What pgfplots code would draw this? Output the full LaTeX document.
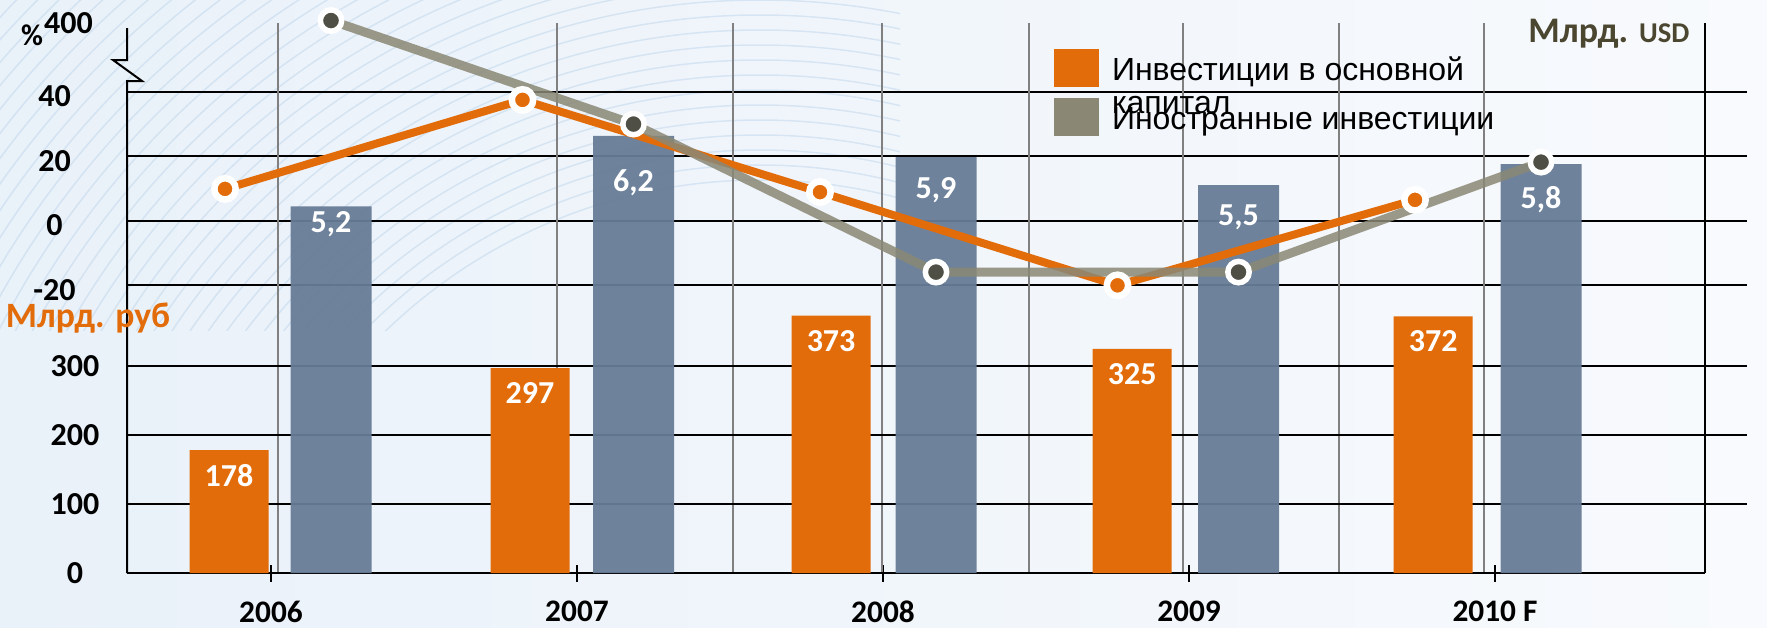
\documentclass[border=0pt]{standalone}
\usepackage{fontspec}
\setmainfont{Carlito}
\newfontfamily\arialfont{Liberation Sans}
\usepackage{pgfplots}
\pgfplotsset{compat=1.18}
\usepackage{pgfplotstable}

\definecolor{orangeC}{HTML}{E36C0A}
\definecolor{blueBar}{HTML}{687C96}
\definecolor{grayLine}{HTML}{8A8875}
\definecolor{grayMark}{HTML}{4F4F45}
\definecolor{oliveT}{HTML}{4A4630}
\definecolor{gridGray}{HTML}{808080}
\definecolor{bgL}{HTML}{E9F1F9}
\definecolor{bgR}{HTML}{F8FAFD}
\definecolor{arcC}{HTML}{B9D2EA}

% rubles (fixed capital investment), bn RUB
\pgfplotstableread{
x rub
0 178
1 297
2 373
3 325
4 372
}\rubdata
% foreign investment, bn USD (off = label offset below bar top, px)
\pgfplotstableread{
x usd off
0 5.2 4
1 6.2 33
2 5.9 20
3 5.5 19
4 5.8 22
}\usddata
% growth of fixed capital investment, %
\pgfplotstableread{
x pct
0 9.8
1 37.4
2 8.8
3 -20.1
4 6.4
}\capdata
% growth of foreign investment, % (first point = 400 %, drawn above the axis break at 62)
\pgfplotstableread{
x pct
0 62
1 29.9
2 -16.0
3 -16.0
4 18.1
}\fdidata

\tikzset{lab/.style={font=\bfseries\fontsize{9.6}{11}\selectfont}}
\pgfplotsset{
  base/.style={scale only axis, width=486pt, height=165pt, at={(38.1pt,16.2pt)},
    anchor=south west, clip=false, axis line style={draw=none},
    tick style={draw=none}, xtick=\empty, ytick=\empty},
  pct/.style={ymin=-109.30, ymax=61.24},
}

\begin{document}
\begin{tikzpicture}
\useasboundingbox (0,0) rectangle (530.1pt,188.1pt);
\shade[left color=bgL, right color=bgR] (0,0) rectangle (530.1pt,188.1pt);
\begin{scope}[x=0.3pt, y=-0.3pt, shift={(0pt,188.1pt)}]
  \begin{scope}
    \clip (0,0) rectangle (900,330);
    \foreach \r in {540,555,...,1050} \draw[arcC, line width=0.45pt, opacity=0.45] (760,720) circle[radius=\r];
  \end{scope}
\end{scope}

% ---- frame axis: percent grid, x ticks, legend
\begin{axis}[base, pct, xmin=-0.47059, xmax=4.82353,
  xtick={0,1,2,3,4}, xticklabels={2006,2007,2008,2009,2010 F},
  xtick pos=left, xtick style={draw=black, line width=0.75pt},
  major tick length=5.1pt, tick align=center,
  xticklabel style={font=\bfseries\fontsize{9.4}{11}\selectfont, anchor=center, yshift=-9pt, inner sep=0pt},
  ytick={-20,0,20,40}, yticklabels={-20,0,20,40}, ytick pos=left, ytick style={draw=none},
  extra y ticks={61.2}, extra y tick labels={400},
  extra y tick style={grid=none, yticklabel style={xshift=4.2pt, yshift=1.4pt}},
  yticklabel style={lab, anchor=center, xshift=-19.2pt, yshift=-1.4pt, inner sep=0pt},
  ymajorgrids, major grid style={black, line width=0.6pt},
  extra x ticks={0.02288,0.93464,1.50980,1.99673,2.47712,2.98039,3.49020,3.96405},
  extra x tick labels={},
  extra x tick style={grid=major, major grid style={gridGray, line width=0.45pt}, major tick length=0pt},
  legend style={at={(0.57222,0.95273)}, anchor=north west, draw=none, fill=none,
    inner sep=0pt, outer sep=0pt, row sep=2.1pt, column sep=3.9pt,
    nodes={inner sep=0pt, text height=8.7pt, text depth=3pt, font=\arialfont\fontsize{9.6}{11}\selectfont}},
  legend cell align=left,
  legend image code/.code={\fill[#1] (0pt,-4.8pt) rectangle (13.5pt,6.6pt);},
]
\addlegendimage{fill=orangeC, draw=none}
\addlegendentry{\rlap{\raisebox{-10pt}{капитал}}Инвестиции в основной}
\addlegendimage{fill=grayLine, draw=none}
\addlegendentry{Иностранные инвестиции}
\draw[black, line width=0.6pt] (rel axis cs:0.97407,1) -- (rel axis cs:0.97407,0);
\draw[black, line width=0.75pt] (rel axis cs:0,0) -- (rel axis cs:0.97407,0);
\draw[black, line width=0.6pt] (rel axis cs:0,0) -- (rel axis cs:0,0.89455) -- (rel axis cs:0.009259,0.89455)
  -- (rel axis cs:-0.008642,0.93273) -- (rel axis cs:0,0.93273) -- (rel axis cs:0,0.99091);
\end{axis}

% ---- rubles axis: orange bars
\begin{axis}[base, xmin=-0.33887, xmax=5.04319, ymin=0, ymax=797.10,
  ytick={100,200,300}, yticklabels={100,200,300}, ytick pos=left,
  extra y ticks={0}, extra y tick labels={0}, extra y tick style={grid=none},
  ymajorgrids, major grid style={black, line width=0.6pt},
  yticklabel style={lab, anchor=center, xshift=-15.6pt, inner sep=0pt},
]
\addplot[ybar, bar width=23.7pt, bar shift=0pt, fill=orangeC, draw=none,
  nodes near coords={\pgfmathprintnumber[assume math mode=true]{\pgfplotspointmeta}},
  every node near coord/.append style={anchor=north, inner sep=0pt, yshift=-4.2pt, text=white, lab}]
  table[x=x, y=rub] {\rubdata};
\end{axis}

% ---- USD axis: blue bars
\begin{axis}[base, xmin=-0.67438, xmax=4.68099, ymin=0, ymax=7.8014]
\addplot[ybar, bar width=24.3pt, bar shift=0pt, fill=blueBar, draw=none, fill opacity=0.95]
  table[x=x, y=usd] {\usddata};
\addplot[draw=none, no markers, point meta=explicit,
  nodes near coords={\pgfmathprintnumber[use comma, fixed, fixed zerofill, precision=1, assume math mode=true]{\pgfplotspointmeta}},
  every node near coord/.append style={anchor=north, inner sep=0pt, text=white, lab}]
  table[x=x, y expr=\thisrow{usd}-\thisrow{off}*0.0141844, meta=usd] {\usddata};
\end{axis}

% ---- orange percent line
\begin{axis}[base, pct, xmin=-0.32941, xmax=5.11597]
\addplot[orangeC, line width=2.4pt, no markers] table[x=x, y=pct] {\capdata};
\end{axis}

% ---- gray percent line
\begin{axis}[base, pct, xmin=-0.67438, xmax=4.68099]
\addplot[grayLine, line width=2.7pt, opacity=0.85, mark=*, mark size=3.2pt,
  mark options={fill=grayMark, draw=white, line width=1.65pt, opacity=1}] table[x=x, y=pct] {\fdidata};
\end{axis}

% ---- orange markers on top
\begin{axis}[base, pct, xmin=-0.32941, xmax=5.11597]
\addplot[only marks, mark=*, mark size=3.2pt,
  mark options={fill=orangeC, draw=white, line width=1.95pt}] table[x=x, y=pct] {\capdata};
\end{axis}

\begin{scope}[x=0.3pt, y=-0.3pt, shift={(0pt,188.1pt)}]
  \node[font=\bfseries\fontsize{9}{10}\selectfont, inner sep=0pt] at (32,35) {\%};
  \node[text=orangeC, font=\bfseries\fontsize{10.7}{12}\selectfont, inner sep=0pt] at (88,318) {Млрд. руб};
  \node[text=oliveT, font=\bfseries\fontsize{10.8}{12}\selectfont, anchor=base east, inner sep=0pt] at (1690,42) {Млрд. {\fontsize{8.6}{10}\selectfont USD}};
\end{scope}
\end{tikzpicture}
\end{document}
